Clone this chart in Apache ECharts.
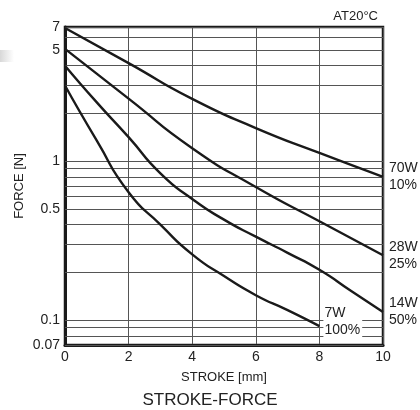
<!DOCTYPE html>
<html>
<head>
<meta charset="utf-8">
<script src="https://cdn.jsdelivr.net/npm/echarts@6/dist/echarts.min.js"></script>
<style>
html,body{margin:0;padding:0;background:#fff;}
#chart{width:420px;height:410px;}
</style>
</head>
<body>
<div id="chart"></div>
<script>
// ---- data ----
const xA = [0, 2, 4, 6, 8, 10];
const forceA = [6.9, 4.15, 2.47, 1.62, 1.13, 0.80];         // 70W 10%
const xB = [0, 2, 4, 6, 8, 10];
const forceB = [5.1, 2.48, 1.21, 0.69, 0.42, 0.257];        // 28W 25%
const xC = [0, 1, 2, 3, 4, 5, 6, 7, 8, 9, 10];
const forceC = [4.0, 2.35, 1.42, 0.84, 0.58, 0.43, 0.336, 0.266, 0.208, 0.153, 0.113]; // 14W 50%
const xD = [0, 1, 2, 3, 4, 5, 6, 7, 8];
const forceD = [3.0, 1.35, 0.64, 0.40, 0.26, 0.19, 0.144, 0.116, 0.092]; // 7W 100%

const seriesNames = ['70W\n10%', '28W\n25%', '14W\n50%', '7W\n100%'];
const gridValues = [0.07, 0.08, 0.09, 0.1, 0.2, 0.3, 0.4, 0.5, 0.6, 0.7, 0.8, 0.9, 1, 2, 3, 4, 5, 6, 7];
const yTickLabels = [7, 5, 1, 0.5, 0.1, 0.07];
const xTicks = [0, 2, 4, 6, 8, 10];

const FONT = "'Liberation Sans', Arial, sans-serif";
const pair = (xs, ys) => xs.map((x, i) => [x, ys[i]]);

const chart = echarts.init(document.getElementById('chart'), null, {renderer: 'canvas'});

const curveStyle = {color: '#1a1a1a', width: 2.4};
function curve(name, xs, ys, labelOpt) {
  return {
    type: 'line', name: name, data: pair(xs, ys),
    smooth: 0.6, symbol: 'none', silent: true,
    lineStyle: curveStyle, z: 5,
    endLabel: Object.assign({
      show: true, formatter: name, color: '#222',
      fontFamily: FONT, fontSize: 14, lineHeight: 17, align: 'left', distance: 6
    }, labelOpt || {})
  };
}

const option = {
  animation: false,
  backgroundColor: '#fff',
  grid: {left: 65, right: 37, top: 27, bottom: 65, show: true, borderColor: '#1a1a1a', borderWidth: 2.5, containLabel: false},
  xAxis: {
    type: 'value', min: 0, max: 10, interval: 2,
    name: 'STROKE [mm]', nameLocation: 'middle', nameGap: 26,
    nameTextStyle: {fontFamily: FONT, fontSize: 13, color: '#222'},
    axisLine: {show: true, lineStyle: {color: '#1a1a1a', width: 3}},
    axisTick: {show: false},
    axisLabel: {fontFamily: FONT, fontSize: 14, color: '#222', margin: 5,
      formatter: v => xTicks.includes(v) ? String(v) : ''},
    splitLine: {show: true, lineStyle: {color: '#555', width: 1}}
  },
  yAxis: {
    type: 'log', logBase: 10, min: 0.07, max: 7,
    name: 'FORCE [N]', nameLocation: 'middle', nameGap: 39, nameRotate: 90,
    nameTextStyle: {fontFamily: FONT, fontSize: 13, color: '#222'},
    axisLine: {show: true, lineStyle: {color: '#1a1a1a', width: 3}},
    axisTick: {show: false},
    axisLabel: {show: false},
    splitLine: {show: false}
  },
  title: [
    {text: 'STROKE-FORCE', left: 'center', top: 387, textStyle: {fontFamily: FONT, fontSize: 17, fontWeight: 'normal', color: '#222'}},
    {text: 'AT20°C', right: 37, top: 5, textStyle: {fontFamily: FONT, fontSize: 13, fontWeight: 'normal', color: '#222'}}
  ],
  graphic: [{
    type: 'rect', left: 0, top: 50, shape: {width: 14, height: 12},
    style: {fill: new echarts.graphic.LinearGradient(0, 0, 1, 0, [{offset: 0, color: '#d8d8d8'}, {offset: 1, color: '#ffffff'}])},
    silent: true
  }],
  series: [
    {
      type: 'line', data: [], silent: true, z: 2,
      markLine: {
        silent: true, symbol: 'none', animation: false,
        lineStyle: {color: '#555', width: 1, type: 'solid'},
        data: gridValues.map(v => ({
          yAxis: v,
          label: {
            show: yTickLabels.includes(v), position: 'start', formatter: String(v),
            fontFamily: FONT, fontSize: 14, color: '#222', distance: 5
          }
        }))
      }
    },
    curve(seriesNames[0], xA, forceA),
    curve(seriesNames[1], xB, forceB),
    curve(seriesNames[2], xC, forceC),
    curve(seriesNames[3], xD, forceD, {backgroundColor: '#fff', padding: [0, 2, 0, 1], distance: 4, offset: [0, -4]})
  ]
};
chart.setOption(option);
</script>
</body>
</html>
